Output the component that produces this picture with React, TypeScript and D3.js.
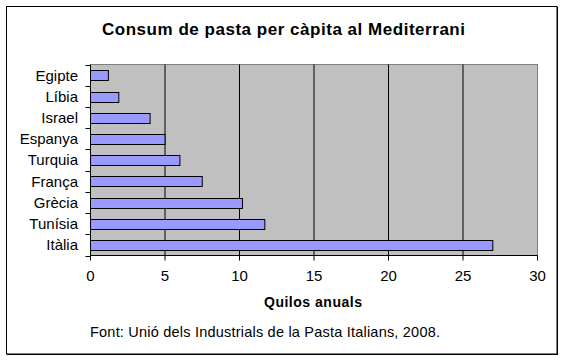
import React from "react";
import * as d3 from "d3";

const categories = ["Egipte", "Líbia", "Israel", "Espanya", "Turquia", "França", "Grècia", "Tunísia", "Itàlia"];
const values = [1.2, 1.9, 4.0, 5.0, 6.0, 7.5, 10.2, 11.7, 27.0];
const xTicks = [0, 5, 10, 15, 20, 25, 30];
const title = "Consum de pasta per càpita al Mediterrani";
const xTitle = "Quilos anuals";
const source = "Font: Unió dels Industrials de la Pasta Italians, 2008.";

const W = 565;
const H = 362;
const plot = { left: 90.5, right: 537.5, top: 64.5, bottom: 255.5 };
const FONT = "Arial, 'Liberation Sans', sans-serif";

export default function App() {
  const x = d3.scaleLinear().domain([0, 30]).range([plot.left, plot.right]);
  const y = d3
    .scaleBand<string>()
    .domain(categories)
    .range([plot.top, plot.bottom])
    .paddingInner(0.55)
    .paddingOuter(0.275);
  const step = y.step();
  const boundaries = d3.range(categories.length + 1).map((i) => plot.top + i * step);

  return (
    <svg
      width={W}
      height={H}
      style={{ position: "absolute", left: 0, top: 0, background: "#fff" }}
    >
      <rect x={0} y={0} width={W} height={H} fill="#fff" />
      {/* outer border */}
      <rect x={6.5} y={6.5} width={550.5} height={347.5} fill="none" stroke="#000" strokeWidth={1} />
      <line x1={557.5} x2={557.5} y1={7} y2={355} stroke="#000" />
      <line x1={7} x2={558} y1={354.5} y2={354.5} stroke="#000" />

      <text
        x={283.5}
        y={35}
        textAnchor="middle"
        fontFamily={FONT}
        fontWeight="bold"
        fontSize={17}
        textLength={363}
        lengthAdjust="spacing"
      >
        {title}
      </text>

      {/* plot area */}
      <rect
        x={plot.left}
        y={plot.top}
        width={plot.right - plot.left}
        height={plot.bottom - plot.top}
        fill="#c0c0c0"
        stroke="#808080"
      />
      {/* gridlines */}
      {xTicks.slice(1, -1).map((t) => (
        <line key={t} x1={x(t)} x2={x(t)} y1={plot.top} y2={plot.bottom} stroke="#000" />
      ))}
      {/* bars */}
      {categories.map((c, i) => (
        <rect
          key={c}
          x={x(0)}
          y={Math.round(y(c)!) + 0.5}
          width={x(values[i]) - x(0)}
          height={Math.round(y.bandwidth())}
          fill="#9999ff"
          stroke="#000"
        />
      ))}
      {/* axes */}
      <line x1={plot.left} x2={plot.left} y1={plot.top} y2={plot.bottom} stroke="#000" />
      <line x1={plot.left} x2={plot.right} y1={plot.bottom} y2={plot.bottom} stroke="#000" />
      {boundaries.map((b, i) => (
        <line key={i} x1={plot.left - 5} x2={plot.left} y1={Math.round(b) + 0.5} y2={Math.round(b) + 0.5} stroke="#000" />
      ))}
      {xTicks.map((t) => (
        <line key={t} x1={x(t)} x2={x(t)} y1={plot.bottom} y2={plot.bottom + 5} stroke="#000" />
      ))}
      {/* labels */}
      {categories.map((c) => (
        <text
          key={c}
          x={78}
          y={y(c)! + y.bandwidth() / 2}
          dy="0.36em"
          textAnchor="end"
          fontFamily={FONT}
          fontSize={15}
        >
          {c}
        </text>
      ))}
      {xTicks.map((t) => (
        <text
          key={t}
          x={x(t)}
          y={281}
          textAnchor="middle"
          fontFamily={FONT}
          fontSize={15}
        >
          {t}
        </text>
      ))}
      <text
        x={313}
        y={307}
        textAnchor="middle"
        fontFamily={FONT}
        fontWeight="bold"
        fontSize={14}
        textLength={98}
        lengthAdjust="spacing"
      >
        {xTitle}
      </text>
      <text
        x={90}
        y={337}
        fontFamily={FONT}
        fontSize={14.5}
        textLength={350}
        lengthAdjust="spacing"
      >
        {source}
      </text>
    </svg>
  );
}
